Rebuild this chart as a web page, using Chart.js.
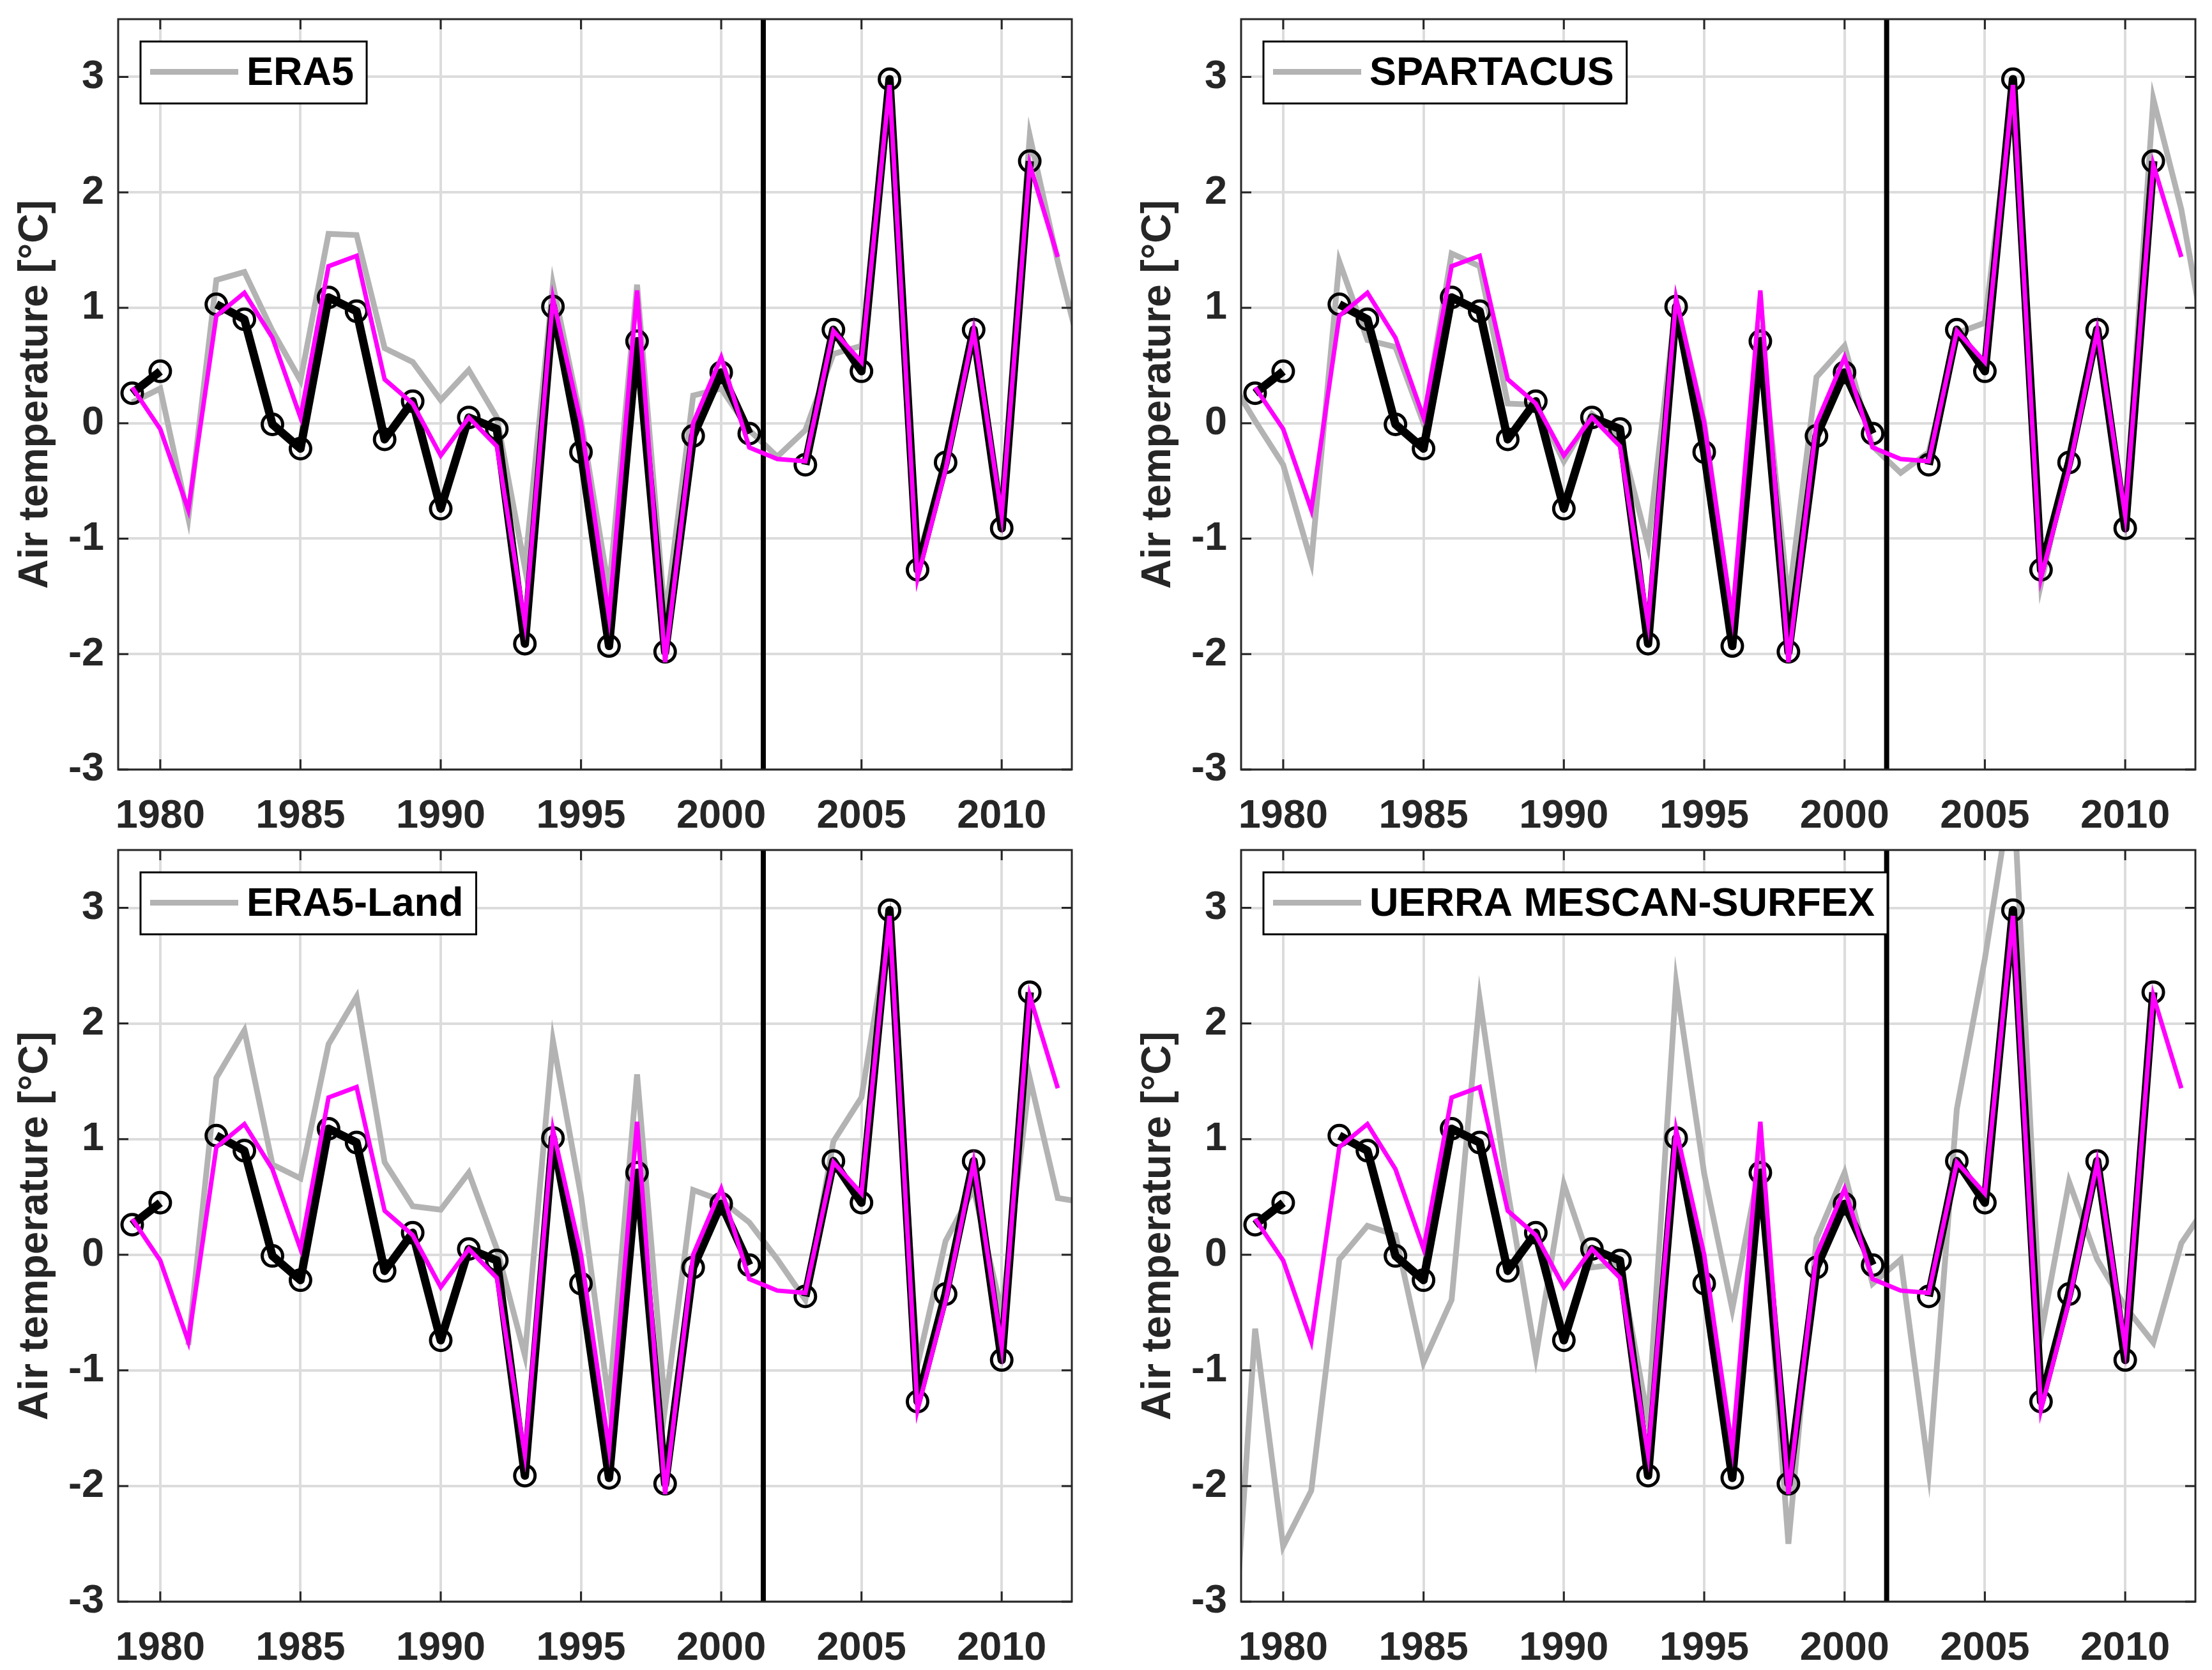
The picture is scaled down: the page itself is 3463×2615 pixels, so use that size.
<!DOCTYPE html>
<html>
<head>
<meta charset="utf-8">
<script src="https://cdn.jsdelivr.net/npm/chart.js@4.4.1/dist/chart.umd.min.js"></script>
<style>
html, body { margin: 0; padding: 0; background: #fff; }
#wrap { position: relative; width: 3463px; height: 2615px; }
canvas { position: absolute; }
</style>
</head>
<body>
<div id="wrap">
  <canvas id="c0" width="1731" height="1310" style="left:0px;top:0px"></canvas>
  <canvas id="c1" width="1732" height="1310" style="left:1731px;top:0px"></canvas>
  <canvas id="c2" width="1731" height="1305" style="left:0px;top:1310px"></canvas>
  <canvas id="c3" width="1732" height="1305" style="left:1731px;top:1310px"></canvas>
</div>
<script>
// years 1978 .. 2013 (1978 and 2013 only reach into the plot edges)
const years = [1978, 1979, 1980, 1981, 1982, 1983, 1984, 1985, 1986, 1987, 1988, 1989,
  1990, 1991, 1992, 1993, 1994, 1995, 1996, 1997, 1998, 1999, 2000, 2001,
  2002, 2003, 2004, 2005, 2006, 2007, 2008, 2009, 2010, 2011, 2012, 2013];

// station observations (black, circles)
const observed = [null, 0.26, 0.45, null, 1.03, 0.90, -0.01, -0.22, 1.09, 0.97, -0.14, 0.19,
  -0.74, 0.05, -0.05, -1.91, 1.01, -0.25, -1.93, 0.71, -1.98, -0.11, 0.44, -0.09,
  null, -0.36, 0.81, 0.45, 2.98, -1.27, -0.34, 0.81, -0.91, 2.27, null, null];

// reconstruction (magenta), same in every panel
const modelled = [null, 0.31, -0.05, -0.75, 0.93, 1.13, 0.74, 0.05, 1.36, 1.45, 0.38, 0.17,
  -0.28, 0.05, -0.20, -1.73, 1.08, 0.00, -1.68, 1.15, -2.07, 0.00, 0.57, -0.21,
  -0.31, -0.33, 0.80, 0.53, 2.93, -1.34, -0.40, 0.80, -0.80, 2.24, 1.44, null];

// gridded products (grey)
const era5 = [null, 0.18, 0.30, -0.82, 1.24, 1.31, 0.80, 0.37, 1.64, 1.63, 0.65, 0.53,
  0.20, 0.46, 0.05, -1.25, 1.20, 0.03, -1.45, 1.20, -1.70, 0.24, 0.30, -0.06,
  -0.29, -0.06, 0.60, 0.67, 2.95, -1.20, -0.30, 0.80, -0.75, 2.49, 1.40, 0.44];

const spartacus = [0.42, 0.02, -0.36, -1.20, 1.40, 0.72, 0.66, 0.00, 1.47, 1.36, 0.17, 0.16,
  -0.33, 0.08, -0.12, -1.06, 1.06, 0.01, -1.75, 0.85, -1.55, 0.40, 0.67, -0.20,
  -0.43, -0.25, 0.78, 0.87, 2.90, -1.39, -0.30, 0.80, -0.80, 2.81, 1.85, 0.49];

const era5Land = [null, null, null, -0.78, 1.53, 1.94, 0.78, 0.66, 1.82, 2.23, 0.80, 0.42,
  0.39, 0.71, 0.05, -0.87, 1.85, 0.51, -1.28, 1.56, -1.32, 0.56, 0.47, 0.28,
  -0.04, -0.39, 0.98, 1.36, 2.85, -0.95, 0.12, 0.57, -0.50, 1.53, 0.49, 0.45];

const uerra = [-4.27, -0.64, -2.52, -2.04, -0.04, 0.25, 0.17, -0.93, -0.39, 2.21, 0.55, -0.88,
  0.61, -0.11, -0.08, -1.43, 2.35, 0.70, -0.47, 0.80, -2.50, 0.14, 0.71, -0.25,
  -0.04, -1.87, 1.26, 2.56, 4.10, -0.69, 0.63, -0.04, -0.45, -0.76, 0.10, 0.46];

const panelNames = ['ERA5', 'SPARTACUS', 'ERA5-Land', 'UERRA MESCAN-SURFEX'];
const panelSeries = [era5, spartacus, era5Land, uerra];

const xTicks = [1980, 1985, 1990, 1995, 2000, 2005, 2010];
const yTicks = [-3, -2, -1, 0, 1, 2, 3];
const xMin = 1978.5, xMax = 2012.5;
const yMin = -3, yMax = 3.5;
const breakYear = 2001.5;

const FONT = "'Liberation Sans', Arial, sans-serif";
const TXT = '#262626';

function toPoints(vals) {
  return years.map((yr, i) => ({ x: yr, y: vals[i] }));
}

// box with inward ticks on all four sides
const framePlugin = {
  id: 'frame',
  afterDatasetsDraw(chart) {
    const { ctx, chartArea: a, scales } = chart;
    const tl = 16;
    ctx.save();
    ctx.strokeStyle = TXT;
    ctx.lineWidth = 3;
    ctx.beginPath();
    xTicks.forEach(v => {
      const px = scales.x.getPixelForValue(v);
      ctx.moveTo(px, a.bottom); ctx.lineTo(px, a.bottom - tl);
      ctx.moveTo(px, a.top); ctx.lineTo(px, a.top + tl);
    });
    yTicks.forEach(v => {
      const py = scales.y.getPixelForValue(v);
      ctx.moveTo(a.left, py); ctx.lineTo(a.left + tl, py);
      ctx.moveTo(a.right, py); ctx.lineTo(a.right - tl, py);
    });
    ctx.stroke();
    ctx.strokeRect(a.left, a.top, a.right - a.left, a.bottom - a.top);
    ctx.restore();
  }
};

// legend box in the upper left corner
const boxLegend = {
  id: 'boxLegend',
  afterDraw(chart, args, opts) {
    const { ctx, chartArea: a } = chart;
    const x0 = a.left + 35, y0 = a.top + 35, h = 97;
    ctx.save();
    ctx.font = 'bold 63px ' + FONT;
    const w = 166 + ctx.measureText(opts.label).width + 20;
    ctx.fillStyle = '#fff';
    ctx.fillRect(x0, y0, w, h);
    ctx.strokeStyle = '#000';
    ctx.lineWidth = 3;
    ctx.strokeRect(x0, y0, w, h);
    ctx.strokeStyle = '#b3b3b3';
    ctx.lineWidth = 9;
    ctx.beginPath();
    ctx.moveTo(x0 + 15, y0 + h / 2 - 1);
    ctx.lineTo(x0 + 153, y0 + h / 2 - 1);
    ctx.stroke();
    ctx.fillStyle = '#000';
    ctx.textBaseline = 'middle';
    ctx.fillText(opts.label, x0 + 166, y0 + h / 2 + 2);
    ctx.restore();
  }
};

const layouts = [
  { yw: 185, top: 30, right: 53, xh: 105, tpad: 18 },
  { yw: 212, top: 30, right: 26, xh: 105, tpad: 45 },
  { yw: 185, top: 21, right: 53, xh: 107, tpad: 18 },
  { yw: 212, top: 21, right: 26, xh: 107, tpad: 45 }
];

function noPad(s) {
  s.paddingTop = 0; s.paddingBottom = 0; s.paddingLeft = 0; s.paddingRight = 0;
}

panelNames.forEach((name, p) => {
  const L = layouts[p];
  const ctx = document.getElementById('c' + p).getContext('2d');
  new Chart(ctx, {
    type: 'line',
    data: {
      datasets: [{
        label: 'model',
        data: toPoints(modelled),
        borderColor: '#ff00ff',
        borderWidth: 7,
        pointRadius: 0,
        spanGaps: false,
        clip: 0,
        order: 1
      }, {
        label: 'break',
        data: [{ x: breakYear, y: yMin }, { x: breakYear, y: yMax }],
        borderColor: '#000',
        borderWidth: 8,
        pointRadius: 0,
        clip: 0,
        order: 2
      }, {
        label: 'stations',
        data: toPoints(observed),
        borderColor: '#000',
        borderWidth: 13,
        borderJoinStyle: 'round',
        pointRadius: 16,
        pointBorderWidth: 5,
        pointBorderColor: '#000',
        pointBackgroundColor: 'rgba(0,0,0,0)',
        spanGaps: false,
        order: 3
      }, {
        label: name,
        data: toPoints(panelSeries[p]),
        borderColor: '#b3b3b3',
        borderWidth: 9,
        pointRadius: 0,
        spanGaps: false,
        clip: 0,
        order: 4
      }]
    },
    options: {
      responsive: false,
      animation: false,
      devicePixelRatio: 1,
      layout: { padding: { top: L.top, right: L.right, left: 0, bottom: 0 } },
      elements: { line: { tension: 0, borderJoinStyle: 'miter' } },
      plugins: {
        legend: { display: false },
        tooltip: { enabled: false },
        boxLegend: { label: name }
      },
      scales: {
        x: {
          type: 'linear',
          min: xMin,
          max: xMax,
          afterBuildTicks: s => { s.ticks = xTicks.map(v => ({ value: v })); },
          afterFit: s => { s.height = L.xh; noPad(s); },
          grid: { color: '#dcdcdc', lineWidth: 4, drawTicks: false },
          border: { display: false },
          ticks: {
            autoSkip: false,
            maxRotation: 0,
            padding: 36,
            color: TXT,
            font: { family: FONT, size: 63, weight: 'bold' },
            callback: v => String(v)
          }
        },
        y: {
          type: 'linear',
          min: yMin,
          max: yMax,
          afterBuildTicks: s => { s.ticks = yTicks.map(v => ({ value: v })); },
          afterFit: s => { s.width = L.yw; noPad(s); },
          grid: { color: '#dcdcdc', lineWidth: 4, drawTicks: false },
          border: { display: false },
          ticks: {
            padding: 22,
            color: TXT,
            font: { family: FONT, size: 63, weight: 'bold' },
            callback: v => String(v)
          },
          title: {
            display: true,
            text: 'Air temperature [°C]',
            color: TXT,
            font: { family: FONT, size: 64, weight: 'bold' },
            padding: { top: L.tpad, bottom: 0 }
          }
        }
      }
    },
    plugins: [framePlugin, boxLegend]
  });
});
</script>
</body>
</html>
